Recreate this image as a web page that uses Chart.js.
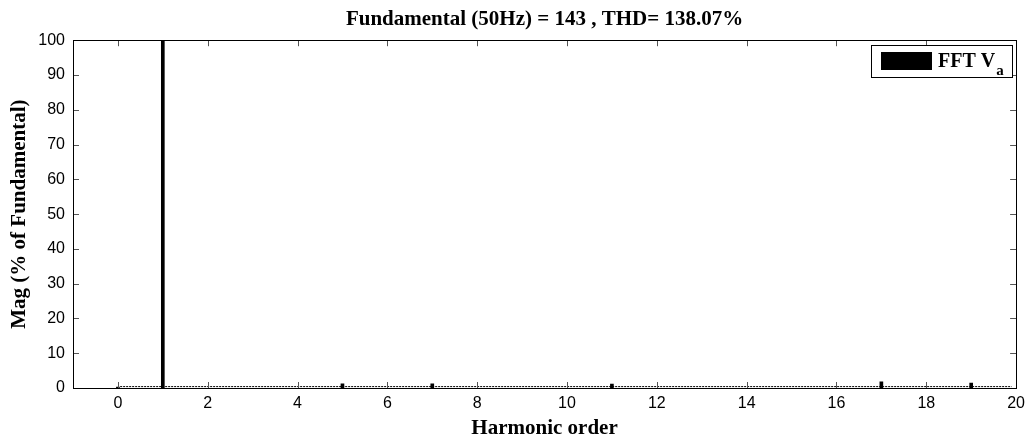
<!DOCTYPE html>
<html>
<head>
<meta charset="utf-8">
<script src="https://cdn.jsdelivr.net/npm/chart.js@4"></script>
<style>
html,body{margin:0;padding:0;background:#fff;}
#wrap{width:1031px;height:441px;position:relative;}
</style>
</head>
<body>
<div id="wrap"><canvas id="c" width="1031" height="441"></canvas></div>
<script>
// Data
const harmonicOrders = [0, 1, 5, 7, 11, 17, 19];
const magnitudes = [0.3, 100, 1.2, 1.2, 1.1, 1.8, 1.4];
const noiseFloorX = [0.05, 19.9];
const noiseFloorY = [0.4, 0.4];
const xTickLabels = [0, 2, 4, 6, 8, 10, 12, 14, 16, 18, 20];
const yTickLabels = [0, 10, 20, 30, 40, 50, 60, 70, 80, 90, 100];
const titleText = 'Fundamental (50Hz) = 143 , THD= 138.07%';
const legendMain = 'FFT V';
const legendSub = 'a';

const boxPlugin = {
  id: 'matlabBox',
  afterDatasetsDraw(chart) {
    const {ctx, chartArea: a, scales: {x, y}} = chart;
    ctx.save();
    ctx.lineWidth = 1;
    ctx.beginPath();
    const tl = 6;
    xTickLabels.forEach(v => {
      const px = Math.round(x.getPixelForValue(v)) + 0.5;
      ctx.moveTo(px, a.bottom); ctx.lineTo(px, a.bottom - tl);
      ctx.moveTo(px, a.top); ctx.lineTo(px, a.top + tl);
    });
    yTickLabels.forEach(v => {
      const py = Math.round(y.getPixelForValue(v)) + 0.5;
      ctx.moveTo(a.left, py); ctx.lineTo(a.left + tl, py);
      ctx.moveTo(a.right, py); ctx.lineTo(a.right - tl, py);
    });
    ctx.strokeStyle = '#555';
    ctx.stroke();
    ctx.strokeStyle = '#000';
    ctx.strokeRect(Math.round(a.left) + 0.5, Math.round(a.top) + 0.5, Math.round(a.right - a.left), Math.round(a.bottom - a.top));
    // legend
    const lx = Math.round(a.right) - 145, ly = Math.round(a.top) + 5, lw = 141, lh = 32;
    ctx.fillStyle = '#fff';
    ctx.fillRect(lx, ly, lw, lh);
    ctx.strokeRect(lx + 0.5, ly + 0.5, lw, lh);
    ctx.fillStyle = '#000';
    ctx.fillRect(lx + 10, ly + 7, 51, 18);
    ctx.font = 'bold 20px "Liberation Serif"';
    ctx.textBaseline = 'alphabetic';
    ctx.textAlign = 'left';
    ctx.fillText(legendMain, lx + 67, ly + 22);
    const w = ctx.measureText(legendMain).width;
    ctx.font = 'bold 15px "Liberation Serif"';
    ctx.fillText(legendSub, lx + 67 + w + 1, ly + 30);
    ctx.restore();
  }
};

new Chart(document.getElementById('c'), {
  type: 'bar',
  data: {
    datasets: [
      {
        type: 'bar',
        label: 'FFT Va',
        data: harmonicOrders.map((h, i) => ({x: h, y: magnitudes[i]})),
        backgroundColor: '#000',
        borderWidth: 0,
        barThickness: 3,
        order: 1
      },
      {
        type: 'line',
        label: 'floor',
        data: noiseFloorX.map((h, i) => ({x: h, y: noiseFloorY[i]})),
        borderColor: '#000',
        borderWidth: 1,
        borderDash: [2, 1],
        pointRadius: 0,
        order: 2
      }
    ]
  },
  options: {
    responsive: false,
    animation: false,
    layout: {padding: {top: 0, right: 12, left: 0, bottom: 0}},
    plugins: {
      legend: {display: false},
      tooltip: {enabled: false},
      title: {
        display: true,
        fullSize: false,
        text: titleText,
        color: '#000',
        font: {family: '"Liberation Serif"', weight: 'bold', size: 21},
        padding: {top: 7, bottom: 8}
      }
    },
    scales: {
      x: {
        type: 'linear',
        offset: false,
        min: -1, max: 20,
        afterBuildTicks(s) { s.ticks = xTickLabels.map(v => ({value: v})); },
        afterFit(s) { s.height = 53; },
        grid: {display: false, drawTicks: false, offset: false},
        border: {display: false},
        ticks: {color: '#000', font: {family: '"Liberation Sans"', size: 16}, padding: 6, maxRotation: 0, autoSkip: false},
        title: {display: true, text: 'Harmonic order', color: '#000', font: {family: '"Liberation Serif"', weight: 'bold', size: 21}, padding: {top: 0, bottom: 0}}
      },
      y: {
        min: 0, max: 100,
        afterBuildTicks(s) { s.ticks = yTickLabels.map(v => ({value: v})); },
        afterFit(s) { s.width = 73; },
        grid: {display: false, drawTicks: false},
        border: {display: false},
        ticks: {color: '#000', font: {family: '"Liberation Sans"', size: 16}, padding: 8},
        title: {display: true, text: 'Mag (% of Fundamental)', color: '#000', font: {family: '"Liberation Serif"', weight: 'bold', size: 21}, padding: {top: 7, bottom: 0}}
      }
    }
  },
  plugins: [boxPlugin]
});
</script>
</body>
</html>
